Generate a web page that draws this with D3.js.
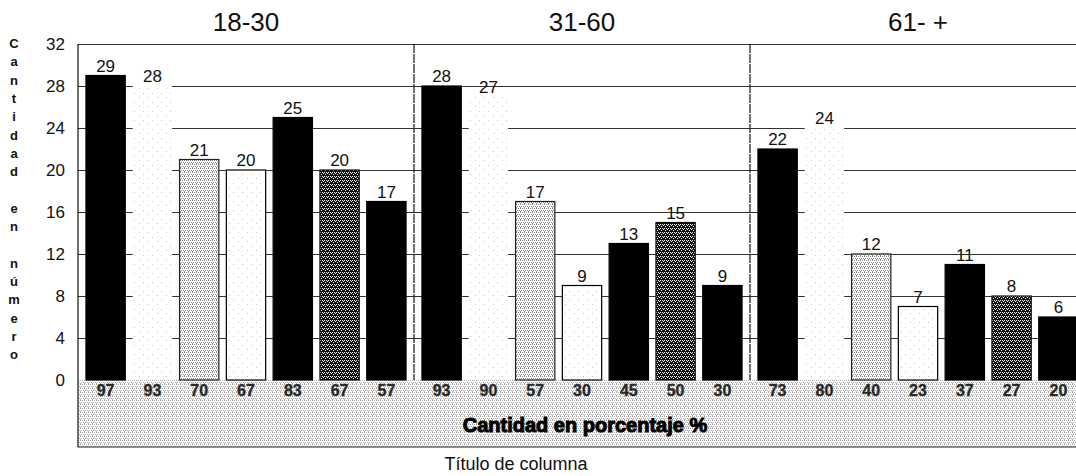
<!DOCTYPE html>
<html>
<head>
<meta charset="utf-8">
<script src="https://cdn.jsdelivr.net/npm/d3@7"></script>
<style>
  html, body { margin: 0; padding: 0; background: #fff; }
  svg { display: block; font-family: Arial, "Liberation Sans", sans-serif; }
</style>
</head>
<body>
<svg id="chart" width="1076" height="476"></svg>
<script>
// Age groups (one panel each) and the seven answers within every group
const ageGroups = ["18-30", "31-60", "61- +"];
const items = [0, 1, 2, 3, 4, 5, 6];

// Count of people per answer, in number
const counts1830 = [29, 28, 21, 20, 25, 20, 17];
const counts3160 = [28, 27, 17, 9, 13, 15, 9];
const counts61 = [22, 24, 12, 7, 11, 8, 6];

// Same answers as a percentage
const pct1830 = [97, 93, 70, 67, 83, 67, 57];
const pct3160 = [93, 90, 57, 30, 45, 50, 30];
const pct61 = [73, 80, 40, 23, 37, 27, 20];

const yTicks = [0, 4, 8, 12, 16, 20, 24, 28, 32];
const yTitle = "Cantidad en número";
const bandTitle = "Cantidad en porcentaje %";
const xTitle = "Título de columna";

const countsByGroup = [counts1830, counts3160, counts61];
const pctByGroup = [pct1830, pct3160, pct61];

// fill used for each of the seven bars of a group
const barFills = ["#000", "url(#sparse)", "url(#stipple)", "url(#sparse)", "#000", "url(#hatch)", "#000"];
const barStrokes = ["#000", "none", "#222", "#000", "#000", "#111", "#000"];

const svg = d3.select("#chart");
const defs = svg.append("defs");

function pattern(id, size, bg, dots, dotColor) {
  const p = defs.append("pattern").attr("id", id).attr("patternUnits", "userSpaceOnUse")
    .attr("width", size).attr("height", size);
  p.append("rect").attr("width", size).attr("height", size).attr("fill", bg);
  dots.forEach(([x, y]) => p.append("rect").attr("x", x).attr("y", y)
    .attr("width", 1).attr("height", 1).attr("fill", dotColor));
}
pattern("sparse", 9, "#fff", [[2, 3], [7, 7]], "#c4c4c4");
pattern("stipple", 4, "#fff", [[0, 0], [2, 0], [1, 2], [3, 2], [2, 3]], "#8c8c8c");
pattern("hatch", 4, "#111", [[0, 0], [2, 0], [1, 1], [3, 2]], "#fff");
pattern("band", 4, "#fff", [[0, 0], [2, 0], [1, 2], [3, 2], [0, 3]], "#a8a8a8");

const plotLeft = 78, plotTop = 44, zeroY = 380, bandBottom = 447, plotRight = 1086;

const y = d3.scaleLinear().domain([0, 32]).range([zeroY, plotTop]);
const xGroup = d3.scaleBand().domain(ageGroups).range([plotLeft, plotRight]).padding(0);
const xItem = d3.scaleBand().domain(items).range([0, xGroup.bandwidth()])
  .paddingInner(0.16).paddingOuter(0.17);

// percentage band beneath the bars
svg.append("rect").attr("x", plotLeft).attr("y", zeroY).attr("width", plotRight - plotLeft)
  .attr("height", bandBottom - zeroY).attr("fill", "url(#band)");
svg.append("line").attr("x1", plotLeft).attr("x2", plotRight).attr("y1", bandBottom).attr("y2", bandBottom)
  .attr("stroke", "#222").attr("stroke-width", 1.2);

// horizontal gridlines from the y axis ticks
const yAxis = d3.axisLeft(y).tickValues(yTicks).tickSize(-(plotRight - plotLeft)).tickPadding(13);
const gy = svg.append("g").attr("transform", `translate(${plotLeft},0)`).call(yAxis);
gy.select(".domain").remove();
gy.selectAll(".tick line").attr("stroke", "#333").attr("stroke-width", 1)
  .filter(d => d === 0).remove();
gy.selectAll(".tick text").attr("font-size", 17).attr("fill", "#111")
  .attr("font-family", "Arial, 'Liberation Sans', sans-serif");

// group separators and the left axis line
svg.append("line").attr("x1", plotLeft).attr("x2", plotLeft).attr("y1", plotTop).attr("y2", bandBottom)
  .attr("stroke", "#111").attr("stroke-width", 1.2);
ageGroups.slice(1).forEach(g => {
  svg.append("line").attr("x1", xGroup(g)).attr("x2", xGroup(g)).attr("y1", plotTop).attr("y2", zeroY)
    .attr("stroke", "#111").attr("stroke-width", 1.2).attr("stroke-dasharray", "9,1");
});

// bars, value labels and percentages per age group
ageGroups.forEach((g, gi) => {
  const gx = xGroup(g);
  const grp = svg.append("g").attr("transform", `translate(${gx},0)`);
  const rows = items.map(i => ({ i, v: countsByGroup[gi][i], p: pctByGroup[gi][i] }));

  grp.selectAll("rect.bar").data(rows).join("rect").attr("class", "bar")
    .attr("x", d => xItem(d.i)).attr("width", xItem.bandwidth())
    .attr("y", d => y(d.v)).attr("height", d => zeroY - y(d.v))
    .attr("fill", d => barFills[d.i]).attr("stroke", d => barStrokes[d.i])
    .attr("stroke-width", 1.2);

  grp.selectAll("text.val").data(rows).join("text").attr("class", "val")
    .attr("x", d => xItem(d.i) + xItem.bandwidth() / 2).attr("y", d => y(d.v) - 4)
    .attr("text-anchor", "middle").attr("font-size", 17).attr("fill", "#111")
    .text(d => d.v);

  grp.selectAll("text.pct").data(rows).join("text").attr("class", "pct")
    .attr("x", d => xItem(d.i) + xItem.bandwidth() / 2).attr("y", 396)
    .attr("text-anchor", "middle").attr("font-size", 16).attr("font-weight", "bold")
    .attr("fill", "#222").attr("stroke", "#444").attr("stroke-width", 0.4)
    .text(d => d.p);

  svg.append("text").attr("x", gx + xGroup.bandwidth() / 2).attr("y", 31)
    .attr("text-anchor", "middle").attr("font-size", 26).attr("fill", "#111").text(g);
});

// band caption and x title
svg.append("text").attr("x", 585).attr("y", 432).attr("text-anchor", "middle")
  .attr("font-size", 20).attr("font-weight", "bold").attr("fill", "#000")
  .attr("stroke", "#000").attr("stroke-width", 1).text(bandTitle);
svg.append("text").attr("x", 516).attr("y", 470).attr("text-anchor", "middle")
  .attr("font-size", 18).attr("fill", "#111").text(xTitle);

// vertical y-axis title, one letter per line
const letters = Array.from(yTitle);
svg.append("g").selectAll("text").data(letters).join("text")
  .attr("x", 14).attr("y", (d, i) => 48 + i * 18.3)
  .attr("text-anchor", "middle").attr("font-size", 13).attr("font-weight", "bold")
  .attr("fill", "#111").text(d => d);
</script>
</body>
</html>
